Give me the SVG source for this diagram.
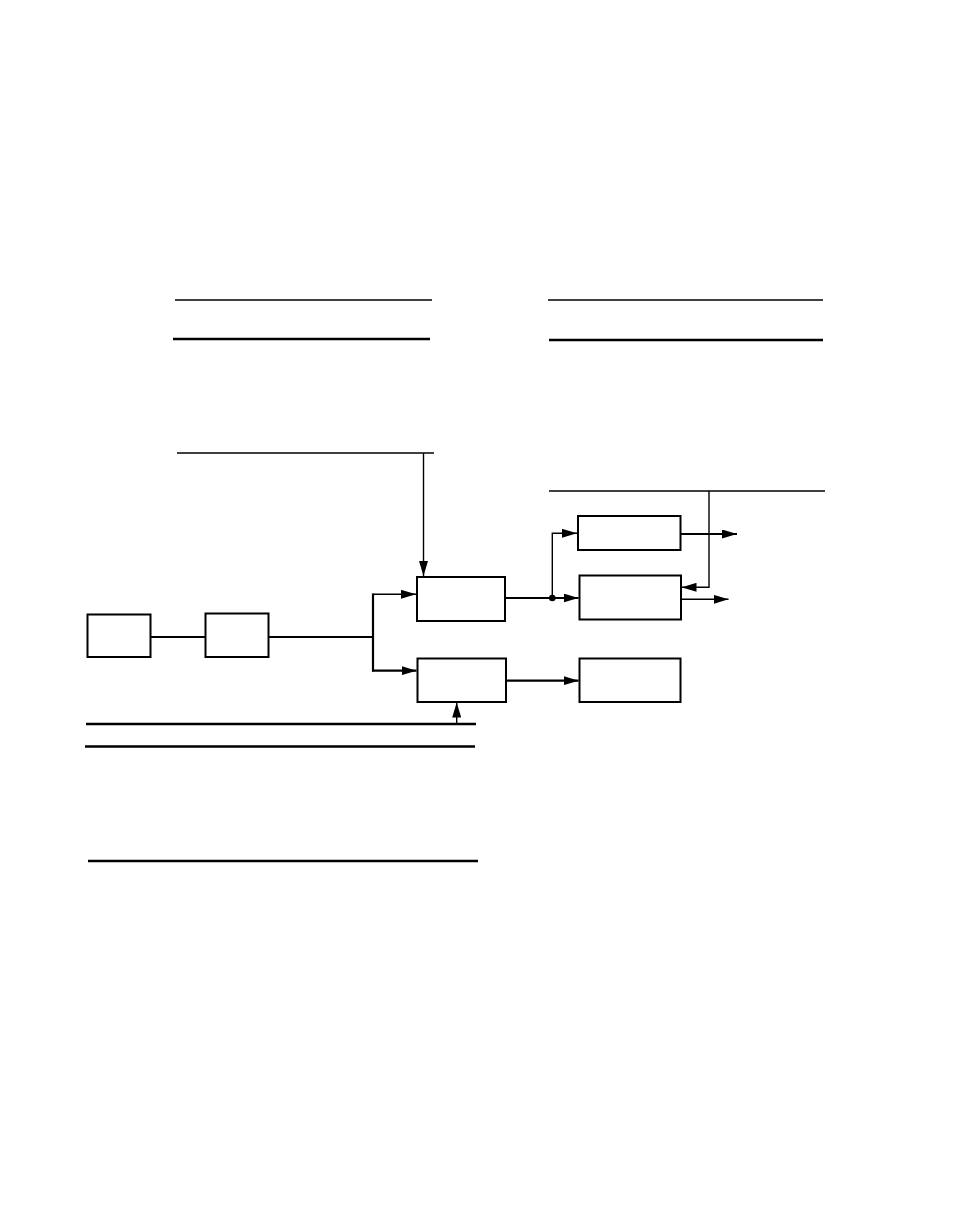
<svg xmlns="http://www.w3.org/2000/svg" width="954" height="1227" viewBox="0 0 954 1227">
<style>
.box{fill:#fff;stroke:#000;stroke-width:2}
.thin{fill:none;stroke:#000;stroke-width:1.4}
.thick{fill:none;stroke:#000;stroke-width:2.2}
.bar{fill:none;stroke:#000;stroke-width:1.4}
.barb{fill:none;stroke:#000;stroke-width:2.4}
</style>
<defs>
<marker id="ah" markerUnits="userSpaceOnUse" markerWidth="15" markerHeight="9" refX="15" refY="4.5" orient="auto">
<path d="M0,0 L15,4.5 L0,9 z" fill="#000"/>
</marker>
</defs>
<rect width="954" height="1227" fill="#fff"/>
<g id="bars">
<line class="bar" x1="175" y1="300" x2="432" y2="300"/>
<line class="barb" x1="173" y1="339" x2="430" y2="339"/>
<line class="bar" x1="548" y1="300" x2="823" y2="300"/>
<line class="barb" x1="549" y1="340" x2="823" y2="340" stroke="#333"/>
<line class="bar" x1="177" y1="453" x2="434" y2="453"/>
<line class="bar" x1="549" y1="491" x2="825" y2="491" stroke="#333" stroke-width="1.8"/>
<line class="barb" x1="86" y1="724" x2="476" y2="724"/>
<line class="barb" x1="85" y1="746.5" x2="475" y2="746.5"/>
<line class="barb" x1="88" y1="861" x2="478" y2="861"/>
</g>
<g id="n1"><rect class="box" x="87.5" y="614.5" width="63" height="42.5" stroke-width="1.8"/></g>
<g id="n2"><rect class="box" x="205.5" y="613.5" width="63" height="43.5" stroke-width="2.2"/></g>
<g id="nA"><rect class="box" x="417" y="577" width="88" height="44" stroke-width="2.2"/></g>
<g id="nB"><rect class="box" x="417.5" y="658.5" width="88.5" height="43.5" stroke-width="1.9"/></g>
<g id="nC"><rect class="box" x="578" y="516" width="102.5" height="34" stroke-width="2.2"/></g>
<g id="nD"><rect class="box" x="579.5" y="575.5" width="101.5" height="44" stroke-width="1.9"/></g>
<g id="nE"><rect class="box" x="579.5" y="658.5" width="101" height="43.5" stroke-width="1.3"/></g>
<g id="connectors">
<line class="thick" x1="150.5" y1="637" x2="205.5" y2="637"/>
<polyline class="thick" points="268.5,637 373,637"/>
<line class="thick" x1="373" y1="593.5" x2="373" y2="671.5"/>
<polyline class="thin" points="373,594.3 416,594.3" marker-end="url(#ah)"/>
<polyline class="thick" points="372,670.7 416.5,670.7" marker-end="url(#ah)"/>
<line class="thin" x1="423.5" y1="453" x2="423.5" y2="576" stroke-width="1.7" marker-end="url(#ah)"/>
<line class="thick" x1="505" y1="598" x2="578.5" y2="598" marker-end="url(#ah)"/>
<circle cx="552.3" cy="598" r="3.3" fill="#000"/>
<polyline class="thin" points="552.3,598 552.3,533.3 577,533.3" marker-end="url(#ah)"/>
<line class="thick" x1="680.5" y1="534" x2="737" y2="534" marker-end="url(#ah)"/>
<line class="thin" x1="681" y1="599.3" x2="728.5" y2="599.3" marker-end="url(#ah)"/>
<polyline class="thin" points="709,491 709,587.3 681.5,587.3" stroke-width="1.7" marker-end="url(#ah)"/>
<line class="thick" x1="506" y1="680.7" x2="578.5" y2="680.7" marker-end="url(#ah)"/>
<line class="thin" x1="456.7" y1="724" x2="456.7" y2="702.5" marker-end="url(#ah)"/>
</g>
</svg>
